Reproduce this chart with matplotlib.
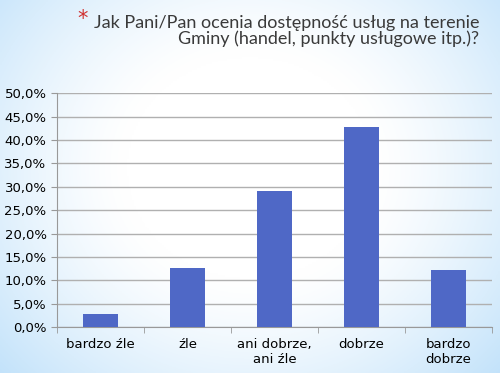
import matplotlib.pyplot as plt
import numpy as np
from matplotlib.ticker import FuncFormatter

# Dane z wykresu
kategorie = ['bardzo źle', 'źle', 'ani dobrze,\nani źle', 'dobrze', 'bardzo\ndobrze']
wartosci = [2.9, 12.7, 29.1, 42.8, 12.2]
tytul = 'Jak Pani/Pan ocenia dostępność usług na terenie\nGminy (handel, punkty usługowe itp.)?'

fig = plt.figure(figsize=(5, 3.73), dpi=100)

# Tło - jasnoniebieski gradient z białym środkiem
bg = fig.add_axes([0, 0, 1, 1], zorder=0)
yy, xx = np.mgrid[0:1:200j, 0:1:270j]
d = np.sqrt(((xx - 0.5) / 0.62) ** 2 + ((yy - 0.45) / 0.75) ** 2)
t = np.clip(d - 0.4, 0, 1) ** 1.3
blue = np.array([0.62, 0.82, 0.97])
white = np.array([1.0, 1.0, 1.0])
img = white[None, None, :] * (1 - t[..., None]) + blue[None, None, :] * t[..., None]
bg.imshow(img, aspect='auto', extent=[0, 1, 0, 1], origin='upper')
bg.axis('off')

ax = fig.add_axes([0.114, 0.123, 0.87, 0.627], zorder=1)
ax.patch.set_alpha(0)
x = np.arange(len(kategorie))
ax.bar(x, wartosci, 0.4, color='#4f68c6', zorder=3)

ax.set_xlim(-0.5, len(kategorie) - 0.5)
ax.set_ylim(0, 50)
ax.set_yticks(np.arange(0, 51, 5))
ax.yaxis.set_major_formatter(FuncFormatter(lambda v, p: f'{v:.1f}%'.replace('.', ',')))
ax.yaxis.grid(True, color='#b0b0b0', linewidth=1, zorder=0)
ax.set_xticks(x)
ax.set_xticklabels(kategorie)
ax.set_xticks(np.arange(-0.5, len(kategorie), 1), minor=True)
ax.tick_params(axis='x', which='major', length=0, pad=8, labelsize=9.5, colors='#000000')
ax.tick_params(axis='x', which='minor', length=4, color='#999999')
ax.tick_params(axis='y', length=4, color='#999999', labelsize=9.5)

for s in ['top', 'right']:
    ax.spines[s].set_visible(False)
for s in ['left', 'bottom']:
    ax.spines[s].set_color('#999999')

# Tytuł z czerwoną gwiazdką po lewej stronie pierwszej linii
tt = fig.text(0.958, 0.96, tytul, ha='right', va='top', fontsize=13, family='Lato',
              color='#3a3a3a', linespacing=1.0)
fig.canvas.draw()
bb = tt.get_window_extent()
x_gw = (bb.x0 - 16) / fig.bbox.width
fig.text(x_gw, 0.975, '*', ha='left', va='top', fontsize=15, color='#d03030')

fig.savefig('out.png', dpi=100)
